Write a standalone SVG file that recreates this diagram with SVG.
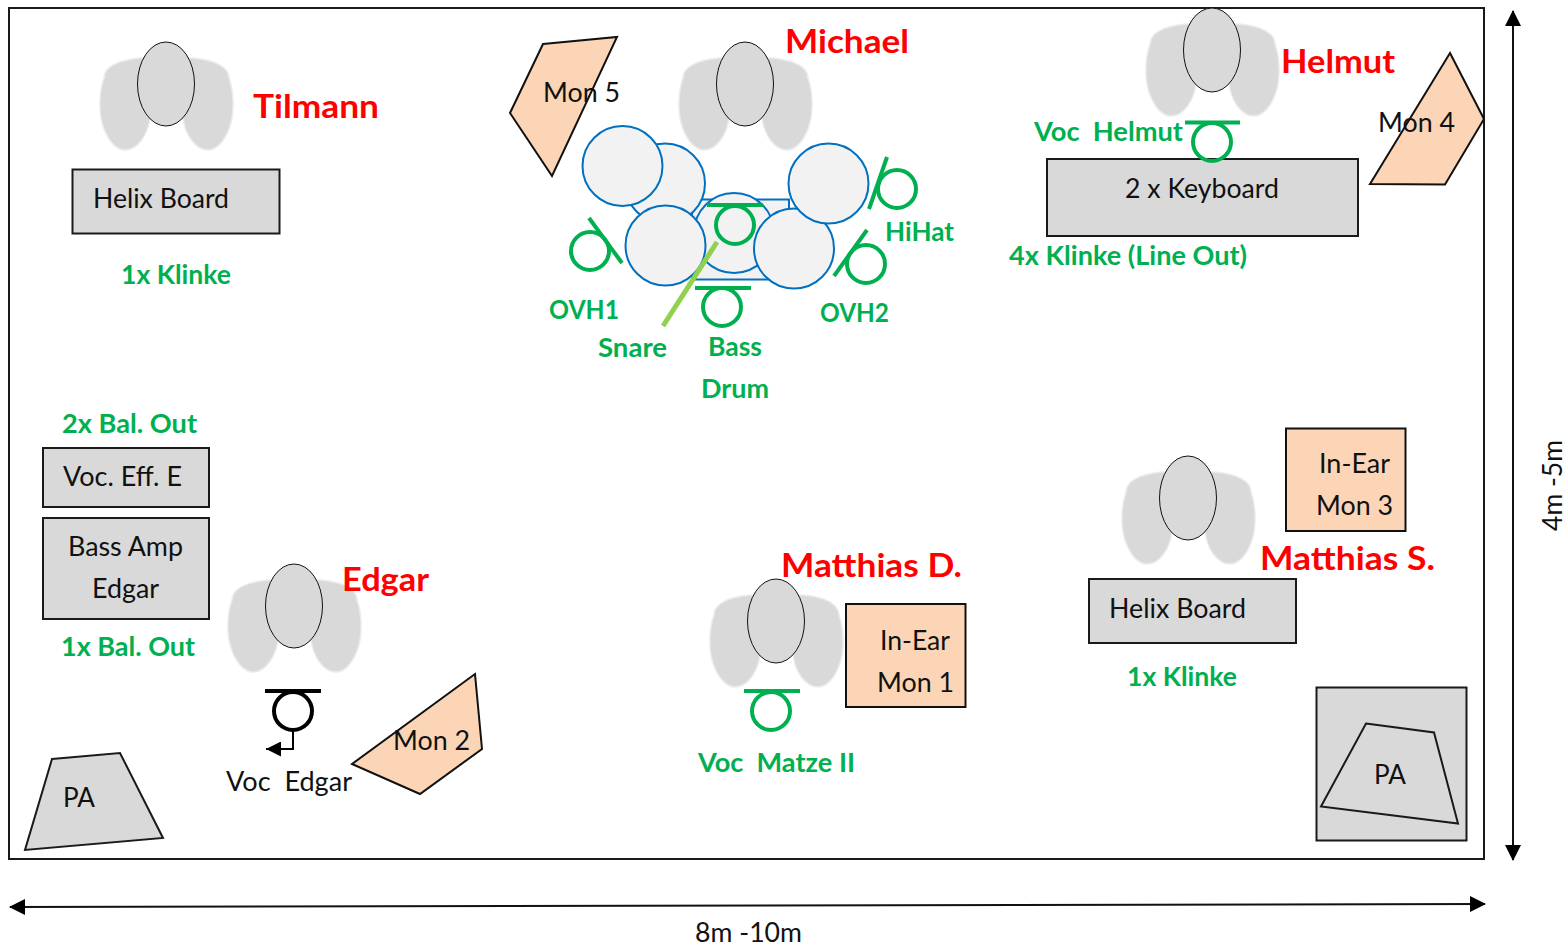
<svg xmlns="http://www.w3.org/2000/svg" width="1568" height="948" viewBox="0 0 1568 948">
<style>
text{font-family:"Lato","Carlito","Liberation Sans",sans-serif;white-space:pre}
text:not(.rot){transform:translate(-1px,-.2px)}
.k{font-size:26px;fill:#111}
.g{font-size:26px;font-weight:700;fill:#00b050}
.r{font-size:33px;font-weight:700;fill:#ff0000}
.box{fill:#d9d9d9;stroke:#1a1a1a;stroke-width:2}
.mon{fill:#fbd5b5;stroke:#111;stroke-width:2}
.drum{fill:#f2f2f2;stroke:#0070c0;stroke-width:2}
.mg{fill:none;stroke:#00b050;stroke-width:4}
.mb{fill:none;stroke:#000;stroke-width:4}
.dim{fill:none;stroke:#111;stroke-width:2}
.head{fill:#d9d9d9;stroke:#111;stroke-width:1}
.body{fill:#d9d9d9;stroke:#ececec;stroke-width:1.5}
</style>
<defs>
<g id="person">
<path class="body" d="M-26-26C-48-24-62-17-62-6C-67 8-68 30-62 45C-57 58-49 66-41 66C-28 66-18 50-16 34L17 34C19 50 29 66 42 66C50 66 58 58 63 45C69 30 68 8 63-6C63-17 49-24 27-26Z"/>
<ellipse class="head" cx="0" cy="0" rx="28.500" ry="42"/>
</g>
<marker id="ah" viewBox="0 0 16 16" refX="15" refY="8" markerWidth="16" markerHeight="16" markerUnits="userSpaceOnUse" orient="auto-start-reverse"><path d="M0 0L16 8L0 16Z" fill="#000"/></marker>
<marker id="as" viewBox="0 0 15 15" refX="15" refY="7.500" markerWidth="15" markerHeight="15" markerUnits="userSpaceOnUse" orient="auto"><path d="M0 0L15 7.500L0 15Z" fill="#000"/></marker>
</defs>
<rect id="stage" x="9" y="8" width="1475" height="851" fill="#fff" stroke="#1a1a1a" stroke-width="2"/>
<g id="connectors">
<path class="dim" d="M1513 11V860" marker-start="url(#ah)" marker-end="url(#ah)"/>
<path class="dim" d="M10 907L1485 904" marker-start="url(#ah)" marker-end="url(#ah)"/>
<path d="M293 731V749H266" fill="none" stroke="#000" stroke-width="2" marker-end="url(#as)"/>
</g>
<g id="tilmann"><use href="#person" x="166" y="84"/><text class="r" x="254" y="118" textLength="126" lengthAdjust="spacingAndGlyphs">Tilmann</text></g>
<g id="helix-board-1"><rect class="box" x="72.500" y="169.500" width="207" height="64"/><text class="k" x="94" y="208" textLength="136" lengthAdjust="spacingAndGlyphs">Helix Board</text></g>
<text class="g" x="122" y="284" textLength="110" lengthAdjust="spacingAndGlyphs">1x Klinke</text>
<g id="mon-5"><polygon class="mon" points="543,44 617,37 552,176 510,113"/><text class="k" x="544" y="102" textLength="77" lengthAdjust="spacingAndGlyphs">Mon 5</text></g>
<g id="michael"><use href="#person" x="745" y="84"/><text class="r" x="786" y="53" textLength="124" lengthAdjust="spacingAndGlyphs">Michael</text></g>
<g id="drums">
<rect class="drum" x="692" y="199.500" width="97" height="80"/>
<circle class="drum" cx="665" cy="183.500" r="40"/>
<circle class="drum" cx="734" cy="233" r="40"/>
<circle class="drum" cx="622.500" cy="166" r="40"/>
<circle class="drum" cx="665.500" cy="245.500" r="40"/>
<circle class="drum" cx="794" cy="248.500" r="40"/>
<circle class="drum" cx="828.500" cy="183.500" r="40"/>
</g>
<g id="mic-snare"><path class="mg" d="M707 205H763"/><circle class="mg" cx="735" cy="225" r="19"/><path d="M717 242L663 326" fill="none" stroke="#92d050" stroke-width="5"/><text class="g" x="599" y="357" textLength="69" lengthAdjust="spacingAndGlyphs">Snare</text></g>
<g id="mic-bass"><path class="mg" d="M695 288H751"/><circle class="mg" cx="722" cy="307" r="19"/><text class="g" x="709" y="356" textLength="54" lengthAdjust="spacingAndGlyphs">Bass</text><text class="g" x="702" y="398" textLength="68" lengthAdjust="spacingAndGlyphs">Drum</text></g>
<g id="mic-ovh1"><path class="mg" d="M589 218L622 263"/><circle class="mg" cx="590" cy="251" r="19"/><text class="g" x="550" y="319" textLength="70" lengthAdjust="spacingAndGlyphs">OVH1</text></g>
<g id="mic-hihat"><path class="mg" d="M887 157L869 209"/><circle class="mg" cx="897" cy="189" r="19"/><text class="g" x="886" y="241" textLength="69" lengthAdjust="spacingAndGlyphs">HiHat</text></g>
<g id="mic-ovh2"><path class="mg" d="M867 230L834 276"/><circle class="mg" cx="866" cy="264" r="19"/><text class="g" x="821" y="322" textLength="69" lengthAdjust="spacingAndGlyphs">OVH2</text></g>
<g id="helmut"><use href="#person" x="1212" y="50"/><text class="r" x="1282" y="73" textLength="114" lengthAdjust="spacingAndGlyphs">Helmut</text></g>
<g id="keyboard"><rect class="box" x="1047" y="159" width="311" height="77"/><text class="k" x="1126" y="198" textLength="154" lengthAdjust="spacingAndGlyphs">2 x Keyboard</text></g>
<g id="mic-helmut"><path class="mg" d="M1185 122.500H1240"/><circle class="mg" cx="1212" cy="142" r="19"/><text class="g" x="1035" y="141" textLength="149" lengthAdjust="spacingAndGlyphs">Voc  Helmut</text></g>
<text class="g" x="1010" y="265" textLength="238" lengthAdjust="spacingAndGlyphs">4x Klinke (Line Out)</text>
<g id="mon-4"><polygon class="mon" points="1450,53 1484,119 1445,184.500 1370,184"/><text class="k" x="1379" y="132" textLength="77" lengthAdjust="spacingAndGlyphs">Mon 4</text></g>
<text class="g" x="63" y="433" textLength="135" lengthAdjust="spacingAndGlyphs">2x Bal. Out</text>
<g id="voc-eff"><rect class="box" x="43" y="448" width="166" height="59"/><text class="k" x="64" y="486" textLength="119" lengthAdjust="spacingAndGlyphs">Voc. Eff. E</text></g>
<g id="bass-amp"><rect class="box" x="43" y="518" width="166" height="101"/><text class="k" x="69" y="556" textLength="115" lengthAdjust="spacingAndGlyphs">Bass Amp</text><text class="k" x="93" y="598" textLength="67" lengthAdjust="spacingAndGlyphs">Edgar</text></g>
<text class="g" x="62" y="656" textLength="134" lengthAdjust="spacingAndGlyphs">1x Bal. Out</text>
<g id="edgar"><use href="#person" x="294" y="606"/><text class="r" x="343" y="591" textLength="87" lengthAdjust="spacingAndGlyphs">Edgar</text></g>
<g id="mic-edgar"><path class="mb" d="M265 691H321"/><circle class="mb" cx="293" cy="711" r="19"/><text class="k" x="227" y="791" textLength="126" lengthAdjust="spacingAndGlyphs">Voc  Edgar</text></g>
<g id="mon-2"><polygon class="mon" points="475,674 482,749 420,794 352,764"/><text class="k" x="394" y="750" textLength="77" lengthAdjust="spacingAndGlyphs">Mon 2</text></g>
<g id="pa-left"><polygon class="box" points="52,759 120,753 163,838 25,850"/><text class="k" x="64" y="807" textLength="32" lengthAdjust="spacingAndGlyphs">PA</text></g>
<g id="matthias-d"><use href="#person" x="776" y="621"/><text class="r" x="782" y="577" textLength="181" lengthAdjust="spacingAndGlyphs">Matthias D.</text></g>
<g id="in-ear-1"><rect class="mon" x="846" y="604" width="119.500" height="103"/><text class="k" x="881" y="650" textLength="70" lengthAdjust="spacingAndGlyphs">In-Ear</text><text class="k" x="878" y="692" textLength="77" lengthAdjust="spacingAndGlyphs">Mon 1</text></g>
<g id="mic-matze"><path class="mg" d="M744 691H800"/><circle class="mg" cx="771" cy="711" r="19"/><text class="g" x="699" y="772" textLength="157" lengthAdjust="spacingAndGlyphs">Voc  Matze II</text></g>
<g id="matthias-s"><use href="#person" x="1188" y="498"/><text class="r" x="1261" y="570" textLength="175" lengthAdjust="spacingAndGlyphs">Matthias S.</text></g>
<g id="in-ear-3"><rect class="mon" x="1286" y="428.500" width="119.500" height="102.500"/><text class="k" x="1320" y="473" textLength="71" lengthAdjust="spacingAndGlyphs">In-Ear</text><text class="k" x="1317" y="515" textLength="77" lengthAdjust="spacingAndGlyphs">Mon 3</text></g>
<g id="helix-board-2"><rect class="box" x="1089" y="579" width="207" height="64"/><text class="k" x="1110" y="618" textLength="137" lengthAdjust="spacingAndGlyphs">Helix Board</text></g>
<text class="g" x="1128" y="686" textLength="110" lengthAdjust="spacingAndGlyphs">1x Klinke</text>
<g id="pa-right"><rect class="box" x="1316.500" y="687.500" width="150" height="153"/><polygon class="box" points="1366,723.500 1434,732.500 1458,823.500 1321,806.500"/><text class="k" x="1375" y="784" textLength="32" lengthAdjust="spacingAndGlyphs">PA</text></g>
<text class="k" x="696" y="942.500" textLength="107" lengthAdjust="spacingAndGlyphs">8m -10m</text>
<text class="k rot" transform="translate(1562 531) rotate(-90)" textLength="91" lengthAdjust="spacingAndGlyphs">4m -5m</text>
</svg>
